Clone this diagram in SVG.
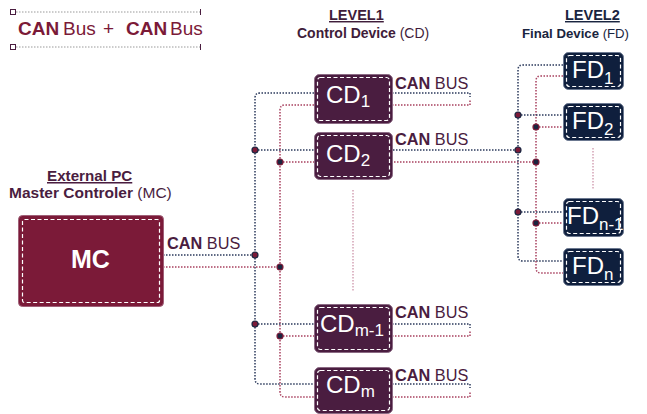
<svg xmlns="http://www.w3.org/2000/svg" width="647" height="414" viewBox="0 0 647 414">
<style>
text{font-family:"Liberation Sans",Arial,sans-serif}
.b{font-weight:bold}
.nv{fill:none;stroke:#2b3a5c;stroke-width:1.5;stroke-dasharray:1.5 1.5}
.rd{fill:none;stroke:#a8405f;stroke-width:1.5;stroke-dasharray:1.5 1.5}
.cd{fill:#4a1d40;stroke:#8b6a84;stroke-width:1}
.fd{fill:#0f1f3d;stroke:#6b7890;stroke-width:1}
.mc{fill:#7b1a38;stroke:#a06078;stroke-width:1}
.in{fill:none;stroke:#ffffff;stroke-width:1.2;stroke-dasharray:4 2.5}
.wt{fill:#ffffff}
.lbl{fill:#4a1d40;font-size:16.3px}
.dn{fill:#7b1a38;stroke:#1a2540;stroke-width:1.2}
.dr{fill:#1a2540;stroke:#7b1a38;stroke-width:1.2}
.ell{fill:none;stroke:#d4a3b5;stroke-width:1.5;stroke-dasharray:1.5 1.5}
</style>

<g id="legend">
  <line x1="16" y1="12" x2="200" y2="12" stroke="#999" stroke-width="1" stroke-dasharray="1.5 1.5"/>
  <line x1="16" y1="47" x2="200" y2="47" stroke="#999" stroke-width="1" stroke-dasharray="1.5 1.5"/>
  <rect x="10.5" y="9.5" width="5" height="5" fill="#fff" stroke="#4a1d40" stroke-width="1"/>
  <rect x="10.5" y="44.5" width="5" height="5" fill="#fff" stroke="#4a1d40" stroke-width="1"/>
  <line x1="200.5" y1="9" x2="200.5" y2="15" stroke="#4a1d40" stroke-width="1"/>
  <line x1="200.5" y1="44" x2="200.5" y2="50" stroke="#4a1d40" stroke-width="1"/>
  <text x="18" y="35" font-size="19" fill="#7b1a38"><tspan class="b">CAN</tspan><tspan x="63">Bus</tspan><tspan x="103">+</tspan><tspan x="126" class="b">CAN</tspan><tspan x="170">Bus</tspan></text>
</g>

<g id="headers">
  <text x="329" y="20" font-size="14.5" class="b" fill="#3f1d3a" text-decoration="underline">LEVEL1</text>
  <text x="297" y="38" font-size="14" fill="#3f1d3a"><tspan class="b">Control Device</tspan> (CD)</text>
  <text x="565" y="20" font-size="14.5" class="b" fill="#1a2540" text-decoration="underline">LEVEL2</text>
  <text x="522" y="38" font-size="13.2" fill="#1a2540"><tspan class="b">Final Device</tspan> (FD)</text>
  <text x="47" y="181" font-size="15.2" class="b" fill="#4a1d40" text-decoration="underline">External PC</text>
  <text x="9" y="198" font-size="15.5" fill="#4a1d40"><tspan class="b">Master Controler</tspan> (MC)</text>
</g>

<g id="connectors">
  <path class="nv" d="M314 93 H260 Q255 93 255 98 V379 Q255 384 260 384 H314"/>
  <path class="rd" d="M314 105 H285 Q280 105 280 110 V392 Q280 397 285 397 H314"/>
  <path class="nv" d="M163 255 H255"/>
  <path class="rd" d="M163 267 H280"/>
  <path class="nv" d="M255 150 H518"/>
  <path class="rd" d="M280 162 H536"/>
  <path class="nv" d="M255 324 H314"/>
  <path class="rd" d="M280 336 H314"/>
  <path class="nv" d="M392 93 H470 V97"/>
  <path class="rd" d="M392 105 H470 V100"/>
  <path class="nv" d="M392 324 H470 V328"/>
  <path class="rd" d="M392 336 H470 V331"/>
  <path class="nv" d="M392 384 H470 V388"/>
  <path class="rd" d="M392 397 H470 V392"/>
  <path class="nv" d="M563 65 H523 Q518 65 518 70 V256 Q518 261 523 261 H563"/>
  <path class="rd" d="M563 76 H541 Q536 76 536 81 V268 Q536 273 541 273 H563"/>
  <path class="nv" d="M518 115 H563"/>
  <path class="rd" d="M536 127 H563"/>
  <path class="nv" d="M518 212 H563"/>
  <path class="rd" d="M536 223 H563"/>
  <path class="ell" d="M353 190 V292"/>
  <path class="ell" d="M593 148 V190"/>
  <circle class="dn" cx="255" cy="150" r="3"/>
  <circle class="dr" cx="280" cy="162" r="3"/>
  <circle class="dn" cx="255" cy="255" r="3"/>
  <circle class="dr" cx="280" cy="267" r="3"/>
  <circle class="dn" cx="255" cy="324" r="3"/>
  <circle class="dr" cx="280" cy="336" r="3"/>
  <circle class="dn" cx="518" cy="150" r="3"/>
  <circle class="dr" cx="536" cy="162" r="3"/>
  <circle class="dn" cx="518" cy="115" r="3"/>
  <circle class="dr" cx="536" cy="127" r="3"/>
  <circle class="dn" cx="518" cy="212" r="3"/>
  <circle class="dr" cx="536" cy="223" r="3"/>
  <text class="lbl" x="167" y="249"><tspan class="b">CAN</tspan> BUS</text>
  <text class="lbl" x="395" y="89"><tspan class="b">CAN</tspan> BUS</text>
  <text class="lbl" x="395" y="145"><tspan class="b">CAN</tspan> BUS</text>
  <text class="lbl" x="395" y="318"><tspan class="b">CAN</tspan> BUS</text>
  <text class="lbl" x="395" y="381"><tspan class="b">CAN</tspan> BUS</text>
</g>

<g id="MC">
  <rect class="mc" x="18.5" y="215.5" width="145" height="91" rx="4"/>
  <rect class="in" x="22.5" y="219.5" width="137" height="83" rx="2"/>
  <text class="wt b" x="90.5" y="268" font-size="25" text-anchor="middle">MC</text>
</g>

<g id="CD1">
  <rect class="cd" x="314.5" y="74.5" width="78" height="49" rx="5"/>
  <rect class="in" x="317.5" y="77.5" width="72" height="43" rx="3"/>
  <text class="wt" x="326" y="103" font-size="24">CD<tspan font-size="17" dy="4">1</tspan></text>
</g>
<g id="CD2">
  <rect class="cd" x="314.5" y="132.5" width="78" height="47" rx="5"/>
  <rect class="in" x="317.5" y="135.5" width="72" height="41" rx="3"/>
  <text class="wt" x="326" y="162" font-size="24">CD<tspan font-size="17" dy="4">2</tspan></text>
</g>
<g id="CDm-1">
  <rect class="cd" x="314.5" y="304.5" width="78" height="48" rx="5"/>
  <rect class="in" x="317.5" y="307.5" width="72" height="42" rx="3"/>
  <text class="wt" x="320" y="332" font-size="24">CD<tspan font-size="17" dy="4">m-1</tspan></text>
</g>
<g id="CDm">
  <rect class="cd" x="314.5" y="367.5" width="78" height="46" rx="5"/>
  <rect class="in" x="317.5" y="370.5" width="72" height="40" rx="3"/>
  <text class="wt" x="326" y="393" font-size="24">CD<tspan font-size="17" dy="4">m</tspan></text>
</g>

<g id="FD1">
  <rect class="fd" x="563.5" y="52.5" width="60" height="37" rx="5"/>
  <rect class="in" x="566.5" y="55.5" width="54" height="31" rx="3"/>
  <text class="wt" x="572" y="78" font-size="24">FD<tspan font-size="17" dy="6">1</tspan></text>
</g>
<g id="FD2">
  <rect class="fd" x="563.5" y="103.5" width="60" height="37" rx="5"/>
  <rect class="in" x="566.5" y="106.5" width="54" height="31" rx="3"/>
  <text class="wt" x="572" y="129" font-size="24">FD<tspan font-size="17" dy="6">2</tspan></text>
</g>
<g id="FDn-1">
  <rect class="fd" x="563.5" y="198.5" width="60" height="38" rx="5"/>
  <rect class="in" x="566.5" y="201.5" width="54" height="32" rx="3"/>
  <text class="wt" x="567" y="224" font-size="24">FD<tspan font-size="17" dy="6">n-1</tspan></text>
</g>
<g id="FDn">
  <rect class="fd" x="563.5" y="248.5" width="60" height="37" rx="5"/>
  <rect class="in" x="566.5" y="251.5" width="54" height="31" rx="3"/>
  <text class="wt" x="572" y="274" font-size="24">FD<tspan font-size="17" dy="6">n</tspan></text>
</g>
</svg>
